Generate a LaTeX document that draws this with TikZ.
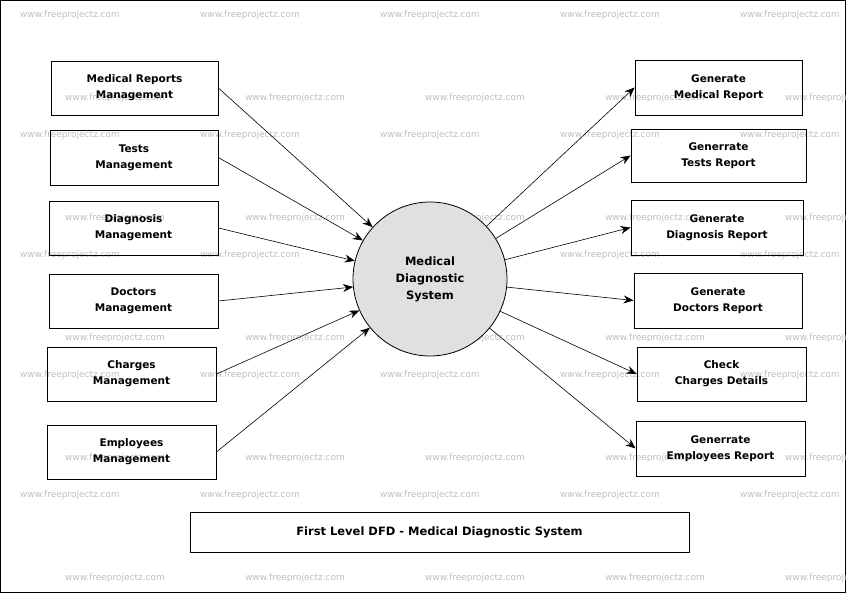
\documentclass[tikz,border=0pt]{standalone}
\usepackage{fontspec}
\setmainfont{DejaVu Sans}
\usetikzlibrary{arrows.meta}
\begin{document}
\begin{tikzpicture}[x=1pt,y=-1pt,
 wm/.style={text=black!25,font=\fontsize{9}{10}\selectfont},
 arr/.style={-{Stealth[length=10pt,width=8pt]},semithick}]
\draw[thick] (0.5,0.5) rectangle (845.5,592.5);
\useasboundingbox (0,0) rectangle (846,593);
\foreach \y in {15,135,255,375,495}{\foreach \x in {70,250,430,610,790}{\node[wm] at (\x,\y) {www.freeprojectz.com};}}
\foreach \y in {98,218,338,458,578}{\foreach \x in {115,295,475,655,835}{\node[wm] at (\x,\y) {www.freeprojectz.com};}}
\def\bx#1#2#3#4#5#6{\node[draw,thick,minimum width=#4-#2,minimum height=#5-#3,inner sep=0pt,align=center,font=\bfseries\fontsize{10.5}{16}\selectfont] (#1) at ({(#2+#4)/2},{(#3+#5)/2}) {#6};}
\bx{l1}{51}{61}{218}{115}{Medical Reports\\Management}
\bx{l2}{50}{130}{218}{185}{Tests\\Management}
\bx{l3}{49}{201}{218}{255}{Diagnosis\\Management}
\bx{l4}{49}{274}{218}{328}{Doctors\\Management}
\bx{l5}{47}{347}{216}{401}{Charges\\Management}
\bx{l6}{47}{425}{216}{479}{Employees\\Management}
\bx{r1}{635}{60}{802}{115}{Generate\\Medical Report}
\bx{r2}{631}{129}{806}{182}{Generrate\\Tests Report}
\bx{r3}{631}{200}{803}{255}{Generate\\Diagnosis Report}
\bx{r4}{634}{273}{802}{328}{Generate\\Doctors Report}
\bx{r5}{637}{347}{806}{401}{Check\\Charges Details}
\bx{r6}{636}{421}{805}{476}{Generrate\\Employees Report}
\node[draw,thick,minimum width=499,minimum height=40,inner sep=0pt,font=\bfseries\fontsize{11.5}{14}\selectfont] (t) at (439.5,532) {First Level DFD - Medical Diagnostic System};
\node[circle,draw,thick,fill=black!12,minimum size=154pt,align=center,font=\bfseries\fontsize{11.5}{17}\selectfont] (c) at (430,279) {Medical\\Diagnostic\\System};
\draw[arr] (l1.east) -- (c);
\draw[arr] (l2.east) -- (c);
\draw[arr] (l3.east) -- (c);
\draw[arr] (l4.east) -- (c);
\draw[arr] (l5.east) -- (c);
\draw[arr] (l6.east) -- (c);
\draw[arr] (c) -- (r1.west);
\draw[arr] (c) -- (r2.west);
\draw[arr] (c) -- (r3.west);
\draw[arr] (c) -- (r4.west);
\draw[arr] (c) -- (r5.west);
\draw[arr] (c) -- (r6.west);
\end{tikzpicture}
\end{document}
